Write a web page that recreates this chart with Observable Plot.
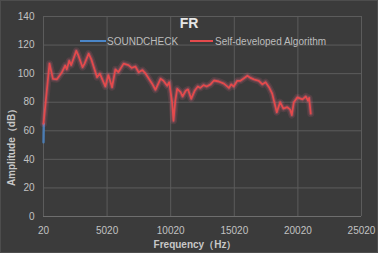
<!DOCTYPE html>
<html>
<head>
<meta charset="utf-8">
<script src="https://cdn.jsdelivr.net/npm/d3@7"></script>
<script src="https://cdn.jsdelivr.net/npm/@observablehq/plot@0.6"></script>
<style>
  html, body { margin: 0; padding: 0; background: #3b3b3b; }
  #chart { width: 378px; height: 253px; overflow: hidden; }
</style>
</head>
<body>
<div id="chart"></div>
<script>
const xTicks = [20, 5020, 10020, 15020, 20020, 25020];
const yTicks = [0, 20, 40, 60, 80, 100, 120, 140];

const algoFreq = [20, 493, 760, 1076, 1470, 1730, 1850, 2045, 2200, 2600, 2750, 3090, 3250, 3570, 3780, 4230, 4450, 4880, 5120, 5410, 5670, 5900, 6320, 6700, 6950, 7245, 7500, 7800, 8050, 8560, 8820, 9220, 9450, 9740, 9900, 10130, 10240, 10380, 10530, 10800, 10950, 11200, 11380, 11630, 11900, 12150, 12350, 12600, 12850, 13150, 13420, 13800, 14200, 14600, 14780, 14970, 15250, 15500, 15780, 16050, 16300, 16560, 16950, 17230, 17480, 17750, 18000, 18360, 18620, 18880, 19180, 19400, 19540, 19700, 19980, 20380, 20640, 20820, 20900, 21030];
const algoAmp = [65, 107, 96.4, 96, 101, 105.7, 103, 109, 106, 116, 113, 104.5, 107, 114, 110, 97.5, 100, 91, 99, 90.5, 103, 101, 107, 106, 104, 105, 101, 102.5, 100, 93, 88.7, 96.4, 95, 91.5, 94, 80, 67, 81, 89.4, 87, 84, 88, 89, 82.4, 88, 91, 90, 92, 91, 92.5, 95.2, 94.5, 93, 90, 92.5, 91, 95, 95, 96.8, 98.5, 97, 96, 95, 92.5, 94, 90.5, 86, 73, 80, 75.5, 76.5, 75, 71, 80, 83.4, 82, 84, 81, 83, 72];

const scFreq = [20, 30, 45];
const scAmp = [52, 58, 65];

const seriesNames = ["SOUNDCHECK", "Self-developed Algorithm"];
const seriesColors = ["#4a86c8", "#e44a4c"];

const algo = algoFreq.map((f, i) => ({f, a: algoAmp[i]}));
const sc = scFreq.map((f, i) => ({f, a: scAmp[i]}));

const fontFam = "'Liberation Sans', 'Open Sans', sans-serif";

const chart = Plot.plot({
  width: 378,
  height: 253,
  marginLeft: 43,
  marginRight: 17,
  marginTop: 16,
  marginBottom: 37,
  style: {background: "#3b3b3b", color: "#c2c2c2", fontFamily: fontFam, fontSize: "10px"},
  x: {domain: [20, 25020], ticks: xTicks, tickFormat: d => String(d), label: null, tickSize: 0, tickPadding: 10},
  y: {domain: [0, 140], ticks: yTicks, label: null, tickSize: 0, tickPadding: 9},
  marks: [
    Plot.gridX(xTicks, {stroke: "#5c5c5c", strokeOpacity: 1}),
    Plot.gridY(yTicks, {stroke: "#5c5c5c", strokeOpacity: 1}),
    Plot.ruleY([0], {stroke: "#6e6e6e"}),
    Plot.line(sc, {x: "f", y: "a", stroke: seriesColors[0], strokeWidth: 2.5, strokeOpacity: 0.8}),
    Plot.line(algo, {x: "f", y: "a", stroke: "#ff6f8a", strokeWidth: 7, strokeOpacity: 0.12}),
    Plot.line(algo, {x: "f", y: "a", stroke: "#ff6f8a", strokeWidth: 4, strokeOpacity: 0.2}),
    Plot.line(algo, {x: "f", y: "a", stroke: seriesColors[1], strokeWidth: 1.8})
  ]
});

const svg = d3.select(chart);
// title
svg.append("text").attr("x", 189).attr("y", 28).attr("text-anchor", "middle")
  .attr("fill", "#e6e6e6").attr("font-weight", "bold").attr("font-size", "14px").attr("font-family", fontFam).text("FR");
// legend
const leg = [{x1: 80, x2: 106, tx: 107}, {x1: 190, x2: 213, tx: 215}];
leg.forEach((l, i) => {
  svg.append("line").attr("x1", l.x1).attr("x2", l.x2).attr("y1", 41).attr("y2", 41)
    .attr("stroke", seriesColors[i]).attr("stroke-width", 2);
  svg.append("text").attr("x", l.tx).attr("y", 44.5).attr("text-anchor", "start").attr("fill", "#bdbdbd")
    .attr("font-size", "10px").attr("font-family", fontFam).text(seriesNames[i]);
});
// axis titles
svg.append("text").attr("x", 195).attr("y", 248).attr("text-anchor", "middle")
  .attr("fill", "#c8c8c8").attr("font-weight", "bold").attr("font-size", "10px").attr("font-family", fontFam)
  .text("Frequency（Hz）");
svg.append("text").attr("transform", "translate(15,145) rotate(-90)").attr("text-anchor", "middle")
  .attr("fill", "#c8c8c8").attr("font-weight", "bold").attr("font-size", "10px").attr("font-family", fontFam)
  .text("Amplitude（dB）");
// border
svg.append("rect").attr("x", 0.5).attr("y", 0.5).attr("width", 377).attr("height", 252)
  .attr("fill", "none").attr("stroke", "#4d4d4d");

document.getElementById("chart").appendChild(chart);
</script>
</body>
</html>
